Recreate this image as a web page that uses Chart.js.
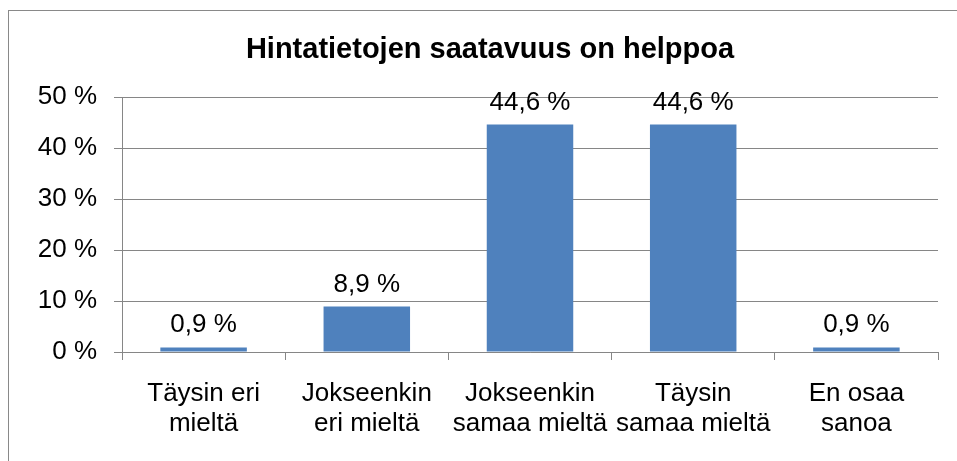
<!DOCTYPE html>
<html>
<head>
<meta charset="utf-8">
<script src="https://cdn.jsdelivr.net/npm/chart.js@4"></script>
<style>
  html, body { margin: 0; padding: 0; background: #fff; }
  #wrap { position: relative; width: 957px; height: 461px; }
  #frame { position: absolute; left: 8px; top: 10px; width: 2000px; height: 2000px;
           border-left: 1px solid #898989; border-top: 1px solid #898989; }
  canvas { position: absolute; left: 0; top: 0; }
</style>
</head>
<body>
<div id="wrap">
  <div id="frame"></div>
  <canvas id="myChart" width="957" height="461"></canvas>
</div>
<script>
  // values
  let categories = [
    ['Täysin eri', 'mieltä'],
    ['Jokseenkin', 'eri mieltä'],
    ['Jokseenkin', 'samaa mieltä'],
    ['Täysin', 'samaa mieltä'],
    ['En osaa', 'sanoa']
  ];
  let shares = [0.9, 8.9, 44.6, 44.6, 0.9];
  let yTicks = [0, 10, 20, 30, 40, 50];
  let title = 'Hintatietojen saatavuus on helppoa';

  const font = '"Liberation Sans", Arial, sans-serif';

  function pct(v) {
    return v.toFixed(1).replace('.', ',') + ' %';
  }

  // labels above the bars + title (title sits a bit right of the canvas centre)
  const barLabels = {
    id: 'barLabels',
    afterDatasetsDraw(chart) {
      const ctx = chart.ctx;
      const meta = chart.getDatasetMeta(0);
      ctx.save();
      ctx.fillStyle = '#000';
      ctx.textAlign = 'center';
      ctx.textBaseline = 'alphabetic';
      ctx.font = '26px ' + font;
      meta.data.forEach((bar, i) => {
        ctx.fillText(pct(shares[i]), bar.x, bar.y - 15);
      });
      ctx.font = 'bold 29px ' + font;
      ctx.fillText(title, 490, 58);
      ctx.restore();
    }
  };

  Chart.defaults.font.family = font;
  Chart.defaults.color = '#000';

  let ctx = document.getElementById('myChart');
  let barGraph = new Chart(ctx, {
    type: 'bar',
    data: {
      labels: categories,
      datasets: [{
        data: shares,
        backgroundColor: '#4F81BD',
        borderWidth: 0,
        categoryPercentage: 1,
        barPercentage: 0.53
      }]
    },
    options: {
      responsive: false,
      animation: false,
      layout: { padding: { left: 10, right: 19, top: 97, bottom: 0 } },
      plugins: {
        legend: { display: false },
        tooltip: { enabled: false },
        title: { display: false }
      },
      scales: {
        x: {
          afterFit(scale) { scale.height = 109; },
          grid: { offset: true, drawOnChartArea: false, drawTicks: true, tickLength: 8, color: '#868686' },
          border: { color: '#868686', width: 1 },
          ticks: { font: { size: 26, lineHeight: 1.15 }, padding: 19, maxRotation: 0, autoSkip: false }
        },
        y: {
          min: 0,
          max: 50,
          afterBuildTicks(scale) {
            scale.ticks = yTicks.map(v => ({ value: v }));
          },
          afterFit(scale) { scale.width = 112; },
          grid: { color: '#868686', tickLength: 8 },
          border: { color: '#868686', width: 1 },
          ticks: {
            font: { size: 26 },
            padding: 17,
            callback: v => v + ' %'
          }
        }
      }
    },
    plugins: [barLabels]
  });
</script>
</body>
</html>
